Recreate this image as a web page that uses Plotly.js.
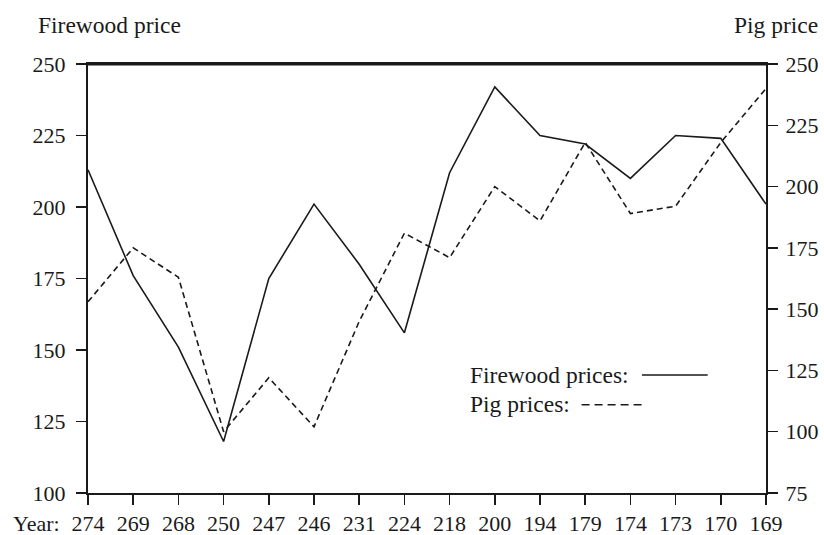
<!DOCTYPE html>
<html>
<head>
<meta charset="utf-8">
<script src="https://cdn.plot.ly/plotly-3.0.1.min.js"></script>
<style>
  html, body { margin: 0; padding: 0; background: #ffffff; }
  #chart { width: 824px; height: 535px; }
</style>
</head>
<body>
<div id="chart"></div>
<script>
const years = ["274","269","268","250","247","246","231","224","218","200","194","179","174","173","170","169"];
const firewoodPrices = [213,176,151,118,175,201,180,156,212,242,225,222,210,225,224,201];
const pigPrices = [153,175,163,100,122,102,145,181,171,200,186,218,189,192,218,240];
const leftTicks = [100,125,150,175,200,225,250];
const rightTicks = [75,100,125,150,175,200,225,250];

const FONT = "Liberation Serif, Times New Roman, serif";
const INK = "#1a1a1a";

const traces = [
  {
    x: years, y: firewoodPrices, type: "scatter", mode: "lines",
    name: "Firewood prices", yaxis: "y",
    line: {color: INK, width: 1.6}
  },
  {
    x: years, y: pigPrices, type: "scatter", mode: "lines",
    name: "Pig prices", yaxis: "y2",
    line: {color: INK, width: 1.6, dash: "6px,4px"}
  }
];

const layout = {
  width: 824, height: 535,
  margin: {l: 88, r: 58, t: 64, b: 42},
  paper_bgcolor: "#ffffff", plot_bgcolor: "#ffffff",
  showlegend: false,
  font: {family: FONT, size: 22, color: INK},
  xaxis: {
    type: "category", range: [0, years.length - 1],
    showgrid: false, zeroline: false,
    showline: true, linecolor: INK, linewidth: 2, mirror: true,
    ticks: "outside", ticklen: 10, tickwidth: 1.5, tickcolor: INK,
    tickfont: {family: FONT, size: 22, color: INK},
    fixedrange: true
  },
  yaxis: {
    range: [100, 250], tickmode: "array", tickvals: leftTicks,
    showgrid: false, zeroline: false,
    showline: true, linecolor: INK, linewidth: 2,
    ticks: "outside", ticklen: 10, tickwidth: 1.5, tickcolor: INK,
    ticklabelstandoff: 6,
    tickfont: {family: FONT, size: 22, color: INK}
  },
  yaxis2: {
    range: [75, 250], tickmode: "array", tickvals: rightTicks,
    overlaying: "y", side: "right", anchor: "x",
    showgrid: false, zeroline: false,
    showline: true, linecolor: INK, linewidth: 2,
    ticks: "outside", ticklen: 10, tickwidth: 1.5, tickcolor: INK,
    ticklabelstandoff: 3,
    tickfont: {family: FONT, size: 22, color: INK}
  },
  shapes: [
    {type: "line", xref: "paper", yref: "paper", x0: 0, x1: 1, y0: 1, y1: 1,
     line: {color: INK, width: 3}},
    {type: "line", xref: "paper", yref: "paper", x0: 0.817, x1: 0.914, y0: 0.275, y1: 0.275,
     line: {color: INK, width: 1.5}},
    {type: "line", xref: "paper", yref: "paper", x0: 0.728, x1: 0.818, y0: 0.206, y1: 0.206,
     line: {color: INK, width: 1.5, dash: "8px,5px"}}
  ],
  annotations: [
    {text: "Firewood price", xref: "paper", yref: "paper", x: -0.077, y: 1.09,
     xanchor: "left", yanchor: "middle", showarrow: false,
     font: {family: FONT, size: 23.5, color: INK}},
    {text: "Pig price", xref: "paper", yref: "paper", x: 1.08, y: 1.09,
     xanchor: "right", yanchor: "middle", showarrow: false,
     font: {family: FONT, size: 23.5, color: INK}},
    {text: "Year:", xref: "paper", yref: "paper", x: -0.113, y: -0.070,
     xanchor: "left", yanchor: "middle", showarrow: false,
     font: {family: FONT, size: 22, color: INK}},
    {text: "Firewood prices:", xref: "paper", yref: "paper", x: 0.560, y: 0.275,
     xanchor: "left", yanchor: "middle", showarrow: false,
     font: {family: FONT, size: 23.5, color: INK}},
    {text: "Pig prices:", xref: "paper", yref: "paper", x: 0.560, y: 0.208,
     xanchor: "left", yanchor: "middle", showarrow: false,
     font: {family: FONT, size: 23.5, color: INK}}
  ]
};

Plotly.newPlot("chart", traces, layout, {displayModeBar: false, staticPlot: true});
</script>
</body>
</html>
